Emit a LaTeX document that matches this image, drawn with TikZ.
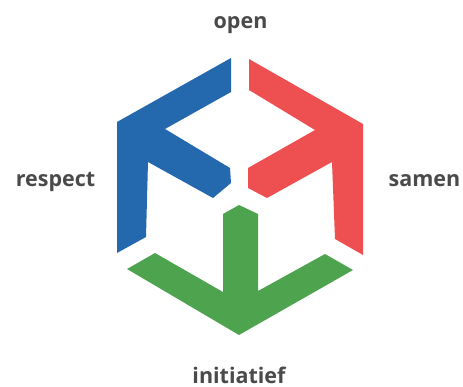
\documentclass[tikz,border=0pt]{standalone}
\usepackage{fontspec}
\setmainfont{Open Sans}
\definecolor{cblue}{HTML}{2468AE}
\definecolor{cred}{HTML}{EE4F50}
\definecolor{cgreen}{HTML}{4EA34E}
\definecolor{ctext}{HTML}{4A4A4A}
\tikzset{lbl/.style={text=ctext,font=\fontsize{21.5}{26}\selectfont\bfseries,inner sep=0pt,anchor=base}}
\begin{document}
\begin{tikzpicture}[x=1pt,y=-1pt]
\useasboundingbox (0,0) rectangle (463,387);
\fill[cblue] (231,58) -- (231,92) -- (165,129) -- (230,168) -- (231,183) -- (213,198) -- (148,162) -- (146,237) -- (117,253) -- (117,122) -- cycle;
\fill[cred] (249,59) -- (363,124) -- (363,255) -- (335,239) -- (332,162) -- (267,198) -- (248,188) -- (248,168) -- (315,130) -- (249,90) -- cycle;
\fill[cgreen] (239,205) -- (258,214) -- (258,291) -- (325,254) -- (353,270) -- (239,335) -- (127,269) -- (155,253) -- (223,292) -- (223,214) -- cycle;
\node[lbl] (open) at (240.5,29) {open};
\node[lbl] (respect) at (55.5,187) {respect};
\node[lbl] (samen) at (424.5,187) {samen};
\node[lbl] (initiatief) at (239,383) {initiatief};
\end{tikzpicture}
\end{document}
